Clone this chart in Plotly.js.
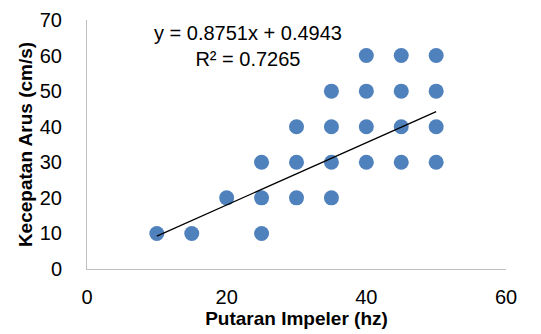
<!DOCTYPE html>
<html>
<head>
<meta charset="utf-8">
<script src="https://cdn.plot.ly/plotly-3.0.1.min.js"></script>
<style>html,body{margin:0;padding:0;background:#fff;}#chart{width:541px;height:334px;}</style>
</head>
<body>
<div id="chart"></div>
<script>
var impellerHz = [10, 15, 20, 25, 25, 25, 30, 30, 30, 35, 35, 35, 35, 40, 40, 40, 40, 45, 45, 45, 45, 50, 50, 50, 50];
var currentSpeed = [10, 10, 20, 30, 20, 10, 40, 30, 20, 50, 40, 30, 20, 60, 50, 40, 30, 60, 50, 40, 30, 60, 50, 40, 30];
var trendSlope = 0.8751;
var trendIntercept = 0.4943;
var trendR2 = 0.7265;
var xTicks = [0, 20, 40, 60];
var yTicks = [0, 10, 20, 30, 40, 50, 60, 70];

var xmin = Math.min.apply(null, impellerHz), xmax = Math.max.apply(null, impellerHz);
var trendX = [xmin, xmax];
var trendY = trendX.map(function (x) { return trendSlope * x + trendIntercept; });

var font = "'Liberation Sans Narrow', 'Arial Narrow', 'Liberation Sans', Arial, sans-serif";

var data = [
  {x: impellerHz, y: currentSpeed, type: 'scatter', mode: 'markers',
   marker: {color: '#4F81BD', size: 15, line: {width: 0}}, showlegend: false, hoverinfo: 'x+y'},
  {x: trendX, y: trendY, type: 'scatter', mode: 'lines',
   line: {color: '#000000', width: 1.3}, showlegend: false, hoverinfo: 'skip'}
];

var layout = {
  width: 541, height: 334,
  margin: {l: 87, r: 35, t: 20, b: 65},
  paper_bgcolor: '#ffffff', plot_bgcolor: '#ffffff',
  font: {family: font, size: 20, color: '#000000'},
  xaxis: {range: [0, 60], tickvals: xTicks, ticktext: xTicks.map(String), showgrid: false, zeroline: false,
          showline: true, linecolor: '#BFBFBF', linewidth: 1, ticks: '', ticklabelstandoff: 10,
          tickfont: {family: font, size: 20, color: '#000'},
          title: {text: '<b>Putaran Impeler (hz)</b>', font: {family: font, size: 19, color: '#000'}, standoff: 0}},
  yaxis: {range: [0, 70], tickvals: yTicks, ticktext: yTicks.map(String), showgrid: false, zeroline: false,
          showline: true, linecolor: '#BFBFBF', linewidth: 1, ticks: '', ticklabelstandoff: 20,
          tickfont: {family: font, size: 20, color: '#000'},
          title: {text: '<b>Kecepatan Arus (cm/s)</b>', font: {family: font, size: 19, color: '#000'}, standoff: 2}},
  annotations: [{
    xref: 'x', yref: 'y', x: 23.1, y: 62.8, showarrow: false, align: 'center',
    text: 'y = ' + trendSlope + 'x + ' + trendIntercept + '<br>R² = ' + trendR2,
    font: {family: font, size: 20, color: '#000'}
  }]
};

Plotly.newPlot('chart', data, layout, {displayModeBar: false, staticPlot: true});
</script>
</body>
</html>
